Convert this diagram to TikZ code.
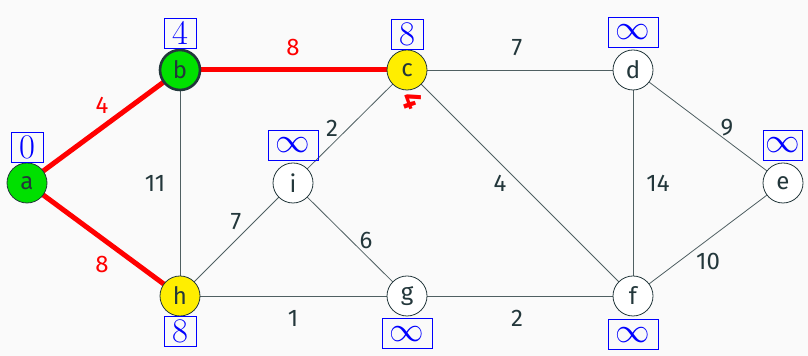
\documentclass[tikz,border=0pt]{standalone}
\usepackage{fontspec}
\setsansfont{Fira Sans}
\usetikzlibrary{positioning}
\definecolor{fg}{HTML}{23373B}
\definecolor{bg}{HTML}{FAFAFA}
\definecolor{vgreen}{HTML}{00E000}
\definecolor{vyellow}{HTML}{FFEE00}
\tikzset{
  vertex/.style={circle,draw=fg,thin,minimum size=20pt,inner sep=0pt,text=fg,font=\sffamily\large},
  dist/.style={draw=blue,text=blue,thin,minimum width=16pt,minimum height=15pt,inner sep=1pt,font=\LARGE},
  edge/.style={draw=fg!80,thin},
  tree/.style={draw=red,line width=2.5pt},
  w/.style={text=fg,font=\sffamily\large},
}
\begin{document}
\begin{tikzpicture}[x=0.5pt,y=-0.5pt]
\fill[bg] (0,0) rectangle (808,356);
\useasboundingbox (0,0) rectangle (808,356);
\draw[edge] (180,70)--(180,296);
\draw[edge] (407,70)--(633,70);
\draw[edge] (407,70)--(293,183);
\draw[edge] (407,70)--(633,296);
\draw[edge] (633,70)--(633,296);
\draw[edge] (633,70)--(783,183);
\draw[edge] (783,183)--(633,296);
\draw[edge] (180,296)--(293,183);
\draw[edge] (293,183)--(407,296);
\draw[edge] (180,296)--(407,296);
\draw[edge] (407,296)--(633,296);
\draw[tree] (27,183)--(180,70);
\draw[tree] (27,183)--(180,296);
\draw[tree] (180,70)--(407,70);
\node[vertex,fill=vgreen] (a) at (27,183) {a};
\node[vertex,fill=vgreen,line width=1.3pt] (b) at (180,70) {b};
\node[vertex,fill=vyellow] (c) at (407,70) {c};
\node[vertex,fill=white] (d) at (633,70) {d};
\node[vertex,fill=white] (e) at (783,183) {e};
\node[vertex,fill=white] (f) at (633,296) {f};
\node[vertex,fill=white] (g) at (407,296) {g};
\node[vertex,fill=vyellow] (h) at (180,296) {h};
\node[vertex,fill=white] (i) at (293,183) {i};
\node[dist,above=0pt of a] {$0$};
\node[dist,above=0pt of b] {$4$};
\node[dist,above=0pt of c] {$8$};
\node[dist,above=1pt of d,minimum width=25pt] {$\infty$};
\node[dist,above=1pt of e,minimum width=18pt] {$\infty$};
\node[dist,above=1pt of i,minimum width=25pt] {$\infty$};
\node[dist,below=0pt of h] {$8$};
\node[dist,below=1pt of g,minimum width=25pt] {$\infty$};
\node[dist,below=1.5pt of f,minimum width=25pt] {$\infty$};
\node[w,text=red] at (102,105) {4};
\node[w,text=red] at (102,265) {8};
\node[w,text=red] at (293,48) {8};
\node[w] at (155,183) {11};
\node[w] at (517,48) {7};
\node[w] at (332,128) {2};
\node[w] at (500,183) {4};
\node[w] at (658,183) {14};
\node[w] at (727,128) {9};
\node[w] at (708,262) {10};
\node[w] at (236,222) {7};
\node[w] at (366,241) {6};
\node[w] at (293,318) {1};
\node[w] at (517,318) {2};
\node[text=red,font=\sffamily\bfseries\Large,rotate=-70] at (413,101) {4};
\end{tikzpicture}
\end{document}
